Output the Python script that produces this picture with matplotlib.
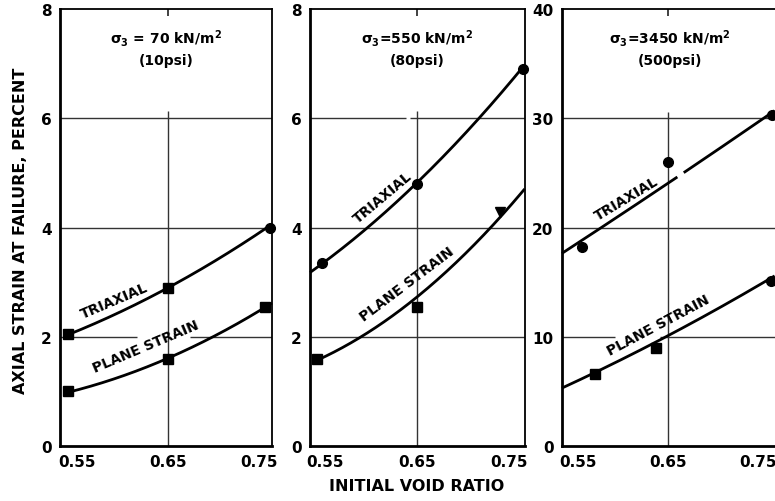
import numpy as np
import matplotlib.pyplot as plt

plt.rcParams["mathtext.default"] = "bf"

# measured points (initial void ratio, axial strain at failure %)
tri_e = [[0.54, 0.65, 0.762], [0.547, 0.65, 0.765], [0.554, 0.65, 0.766]]
tri_y = [[2.05, 2.9, 4.0], [3.35, 4.8, 6.9], [18.2, 26.0, 30.3]]
tri_mk = [["s", "s", "o"], ["o", "o", "o"], ["o", "o", "o"]]

ps_e = [[0.54, 0.65, 0.756], [0.542, 0.65, 0.740], [0.569, 0.637, 0.765]]
ps_y = [[1.0, 1.6, 2.55], [1.6, 2.55, 4.28], [6.6, 9.0, 15.1]]
ps_mk = [["s", "s", "s"], ["s", "s", "v"], ["s", "s", "o"]]

# drawn curves, nodes
tri_curve_e = [[0.54, 0.60, 0.65, 0.70, 0.764],
               [0.534, 0.60, 0.65, 0.70, 0.767],
               [0.532, 0.582, 0.65, 0.70, 0.769]]
tri_curve_y = [[2.05, 2.45, 2.9, 3.4, 4.05],
               [3.2, 4.0, 4.8, 5.75, 6.95],
               [17.8, 20.0, 24.1, 27.0, 30.6]]
ps_curve_e = [[0.54, 0.60, 0.65, 0.70, 0.764],
              [0.542, 0.594, 0.65, 0.70, 0.767],
              [0.532, 0.569, 0.65, 0.70, 0.769]]
ps_curve_y = [[1.0, 1.25, 1.6, 2.05, 2.6],
              [1.6, 2.0, 2.7, 3.55, 4.68],
              [5.4, 6.6, 10.0, 12.5, 15.5]]
# small breaks in the original drawing (e from, e to)
tri_gaps = [None, None, (0.661, 0.667)]
hgrid_gaps = [{2: (0.616, 0.674)}, {6: (0.638, 0.643)}, {10: (0.591, 0.641)}]

titles = ["σ$_3$ = 70 kN/m$^2$\n(10psi)",
          "σ$_3$=550 kN/m$^2$\n(80psi)",
          "σ$_3$=3450 kN/m$^2$\n(500psi)"]
y_max = [8, 8, 40]
y_ticks = [[0, 2, 4, 6, 8], [0, 2, 4, 6, 8], [0, 10, 20, 30, 40]]
x_ticks = [0.55, 0.65, 0.75]
x_lims = [(0.531, 0.764), (0.534, 0.767), (0.532, 0.772)]
vgrid_top = [6.13, 6.13, 30.6]

# label placement (e, y, rotation)
tri_lab = [(0.591, 2.66, 23), (0.613, 4.57, 40), (0.604, 22.7, 31)]
ps_lab = [(0.625, 1.82, 23), (0.639, 2.97, 37), (0.64, 11.1, 28)]

lefts = [0.0774, 0.400, 0.725]
widths = [0.2736, 0.277, 0.278]

fig = plt.figure(figsize=(7.75, 5.02), dpi=100)
for i in range(3):
    ax = fig.add_axes([lefts[i], 0.1096, widths[i], 0.8704])
    ax.set_xlim(*x_lims[i])
    ax.set_ylim(0, y_max[i])
    ax.set_xticks(x_ticks)
    ax.set_xticklabels(["0.55", "0.65", "0.75"], fontweight="bold", fontsize=11)
    ax.set_yticks(y_ticks[i])
    ax.set_yticklabels([str(t) for t in y_ticks[i]], fontweight="bold", fontsize=11)
    ax.tick_params(length=0, pad=6)
    for s in ["left", "bottom"]:
        ax.spines[s].set_linewidth(2.0)
    for s in ["top", "right"]:
        ax.spines[s].set_linewidth(1.3)

    # grid
    x0, x1 = x_lims[i]
    for t in y_ticks[i][1:-1]:
        gap = hgrid_gaps[i].get(t)
        if gap:
            ax.hlines([t, t], [x0, gap[1]], [gap[0], x1], color="#333333", lw=1.0, zorder=1)
        else:
            ax.axhline(t, color="#333333", lw=1.0, zorder=1)
    ax.vlines(0.65, 0, vgrid_top[i], color="#333333", lw=1.0, zorder=1)
    ax.vlines(0.65, y_max[i] * 0.985, y_max[i], color="#333333", lw=1.3, zorder=1)

    # curves
    for ce, cy, gap in [(tri_curve_e[i], tri_curve_y[i], tri_gaps[i]),
                        (ps_curve_e[i], ps_curve_y[i], None)]:
        coef = np.polyfit(ce, cy, 2)
        xs = np.linspace(ce[0], ce[-1], 200)
        ys = np.polyval(coef, xs)
        if gap is not None:
            ys = np.where((xs > gap[0]) & (xs < gap[1]), np.nan, ys)
        ax.plot(xs, ys, color="black", lw=2.0, zorder=3,
                solid_capstyle="butt", clip_on=False)

    # points
    for e, y, m in zip(tri_e[i], tri_y[i], tri_mk[i]):
        ax.plot(e, y, marker=m, color="black", ms=7, zorder=4, clip_on=False)
    for e, y, m in zip(ps_e[i], ps_y[i], ps_mk[i]):
        ax.plot(e, y, marker=m, color="black", ms=7, zorder=4, clip_on=False)

    ax.text(*tri_lab[i][:2], "TRIAXIAL", rotation=tri_lab[i][2], fontsize=10,
            fontweight="bold", ha="center", va="center", rotation_mode="anchor")
    ax.text(*ps_lab[i][:2], "PLANE STRAIN", rotation=ps_lab[i][2], fontsize=10,
            fontweight="bold", ha="center", va="center", rotation_mode="anchor")

    ax.text(0.5, 0.958, titles[i], transform=ax.transAxes, ha="center", va="top",
            fontsize=10, fontweight="bold", linespacing=1.45)

fig.text(0.026, 0.54, "AXIAL STRAIN AT FAILURE, PERCENT", rotation=90,
         ha="center", va="center", fontsize=11.5, fontweight="bold")
fig.text(0.538, 0.030, "INITIAL VOID RATIO", ha="center", va="center",
         fontsize=11.5, fontweight="bold")

fig.savefig("out.png", dpi=100)
